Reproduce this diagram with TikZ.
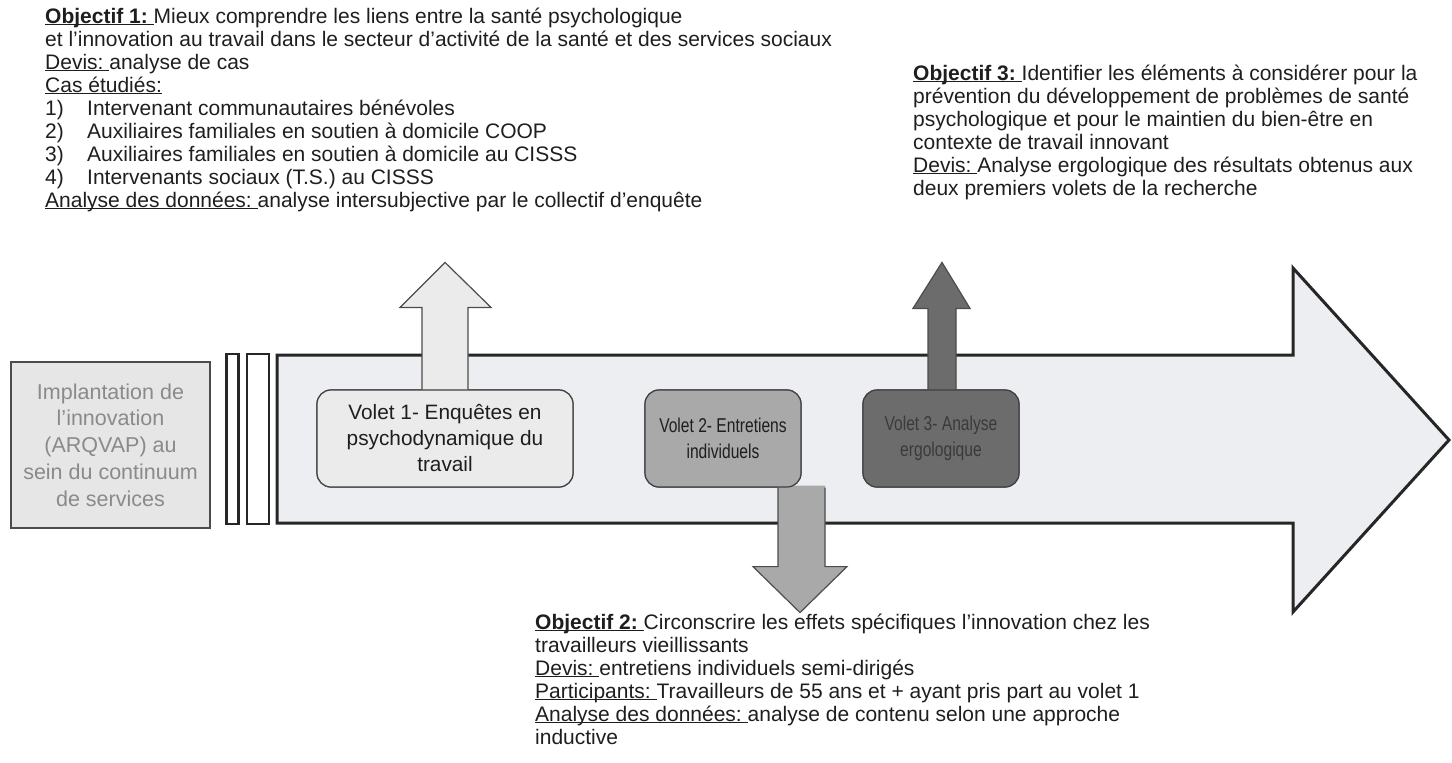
\documentclass[tikz,border=0pt]{standalone}
\usepackage{fontspec}
\setmainfont{Liberation Sans}
\newfontfamily\narrowfont{Liberation Sans}[FakeStretch=0.78]
\usetikzlibrary{calc}
\definecolor{bandfill}{HTML}{ECEEF1}
\definecolor{boxone}{HTML}{EBEBEB}
\definecolor{boxtwo}{HTML}{A9A9A9}
\definecolor{boxthree}{HTML}{6C6C6C}
\definecolor{inktext}{HTML}{1E1E1E}
\definecolor{paletext}{HTML}{8A8A8A}
\definecolor{darktext}{HTML}{3A3A3A}
\definecolor{startfill}{HTML}{E6E6E6}
% underline drawn just under the baseline, through the descenders
\newsavebox\ulbox
\newcommand{\ulplain}[1]{\sbox\ulbox{#1}\mbox{\rlap{\rule[-2.4pt]{\wd\ulbox}{1.1pt}}\usebox\ulbox}}
\newcommand{\ul}[1]{\ulplain{#1\ }}
\tikzset{
  band/.style={fill=bandfill, draw=black!85, line width=3pt, line join=miter},
  bar/.style={fill=white, draw=black!85, line width=2.6pt},
  startbox/.style={fill=startfill, draw=black!70, line width=1.4pt, minimum width=199pt, minimum height=166pt,
    text=paletext, align=center, font=\fontsize{21.5}{26.7}\selectfont, inner sep=0pt},
  volet/.style={rounded corners=14pt, draw=black!75, line width=1.2pt, minimum height=97pt,
    align=center, inner sep=0pt, font=\fontsize{20.8}{26}\selectfont, text=inktext},
  narrowvolet/.style={volet, minimum width=156pt, font=\narrowfont\fontsize{20}{26}\selectfont},
  blockarrow/.style={draw=black!70, line width=1.2pt, line join=miter},
  objtext/.style={align=left, inner sep=0pt, text=inktext, font=\fontsize{21}{23}\selectfont}
}
\begin{document}
\begin{tikzpicture}[x=1pt,y=-1pt]
\useasboundingbox (0,0) rectangle (1452,763);

% main timeline arrow
\draw[band] (277,355) -- (1293,355) -- (1293,268) -- (1449,440) -- (1293,612) -- (1293,523) -- (277,523) -- cycle;

% two thin separator bars
\draw[bar] (226.5,354) rectangle (238.5,524);
\draw[bar] (247,354) rectangle (269,524);

% starting box
\node[startbox] (start) at (110.5,445) {Implantation de\\l'innovation\\(ARQVAP) au\\sein du continuum\\de services};

% the three parts (placed first so the arrows can hang on them)
\node[volet, minimum width=256pt] (v1) at (445,438.5) {};
\node[narrowvolet] (v2) at (723,438.5) {};
\node[narrowvolet] (v3) at (941,438.5) {};

% objective arrows leaving the parts
\coordinate (t1) at ($(v1.north)+(0,-127)$);
\coordinate (t3) at ($(v3.north)+(1,-127)$);
\coordinate (t2) at ($(v2.south)+(77,125)$);

\fill[boxone] ($(v1.north)+(-23,2)$) -- ($(v1.north)+(-23,-82)$) -- ($(v1.north)+(-45,-82)$) -- (t1)
  -- ($(v1.north)+(46,-82)$) -- ($(v1.north)+(23,-82)$) -- ($(v1.north)+(23,2)$) -- cycle;
\draw[blockarrow] ($(v1.north)+(-23,0)$) -- ($(v1.north)+(-23,-82)$) -- ($(v1.north)+(-45,-82)$) -- (t1)
  -- ($(v1.north)+(46,-82)$) -- ($(v1.north)+(23,-82)$) -- ($(v1.north)+(23,0)$);

\fill[boxthree] ($(v3.north)+(-13,2)$) -- ($(v3.north)+(-13,-81)$) -- ($(v3.north)+(-28,-81)$) -- (t3)
  -- ($(v3.north)+(29,-81)$) -- ($(v3.north)+(15,-81)$) -- ($(v3.north)+(15,2)$) -- cycle;
\draw[blockarrow] ($(v3.north)+(-13,0)$) -- ($(v3.north)+(-13,-81)$) -- ($(v3.north)+(-28,-81)$) -- (t3)
  -- ($(v3.north)+(29,-81)$) -- ($(v3.north)+(15,-81)$) -- ($(v3.north)+(15,0)$);

\fill[boxtwo] ($(v2.south)+(55,-2)$) -- ($(v2.south)+(55,79)$) -- ($(v2.south)+(30,79)$) -- (t2)
  -- ($(v2.south)+(124,79)$) -- ($(v2.south)+(102,79)$) -- ($(v2.south)+(102,-2)$) -- cycle;
\draw[blockarrow] ($(v2.south)+(55,0)$) -- ($(v2.south)+(55,79)$) -- ($(v2.south)+(30,79)$) -- (t2)
  -- ($(v2.south)+(124,79)$) -- ($(v2.south)+(102,79)$) -- ($(v2.south)+(102,0)$);

% the part boxes with their labels, over the arrow shafts
\node[volet, fill=boxone, minimum width=256pt] at (v1) {Volet 1- Enquêtes en\\psychodynamique du\\travail};
\node[narrowvolet, fill=boxtwo] at (v2) {Volet 2- Entretiens\\individuels};
\node[narrowvolet, fill=boxthree, text=darktext] at (v3) {Volet 3- Analyse\\ergologique};

% objective descriptions (anchored on the baseline of their last line)
\node[objtext, anchor=base west] (obj1) at (45,207) {%
\ul{\textbf{Objectif 1:}}Mieux comprendre les liens entre la santé psychologique\\
et l'innovation au travail dans le secteur d'activité de la santé et des services sociaux\\
\ul{Devis:}analyse de cas\\
\ulplain{Cas étudiés:}\\
\makebox[42pt][l]{1)}Intervenant communautaires bénévoles\\
\makebox[42pt][l]{2)}Auxiliaires familiales en soutien à domicile COOP\\
\makebox[42pt][l]{3)}Auxiliaires familiales en soutien à domicile au CISSS\\
\makebox[42pt][l]{4)}Intervenants sociaux (T.S.) au CISSS\\
\ul{Analyse des données:}analyse intersubjective par le collectif d'enquête};

\node[objtext, anchor=base west] (obj3) at (913,195) {%
\ul{\textbf{Objectif 3:}}Identifier les éléments à considérer pour la\\
prévention du développement de problèmes de santé\\
psychologique et pour le maintien du bien-être en\\
contexte de travail innovant\\
\ul{Devis:}Analyse ergologique des résultats obtenus aux\\
deux premiers volets de la recherche};

\node[objtext, anchor=base west] (obj2) at (535,744) {%
\ul{\textbf{Objectif 2:}}Circonscrire les effets spécifiques l'innovation chez les\\
travailleurs vieillissants\\
\ul{Devis:}entretiens individuels semi-dirigés\\
\ul{Participants:}Travailleurs de 55 ans et + ayant pris part au volet 1\\
\ul{Analyse des données:}analyse de contenu selon une approche\\
inductive};
\end{tikzpicture}
\end{document}
